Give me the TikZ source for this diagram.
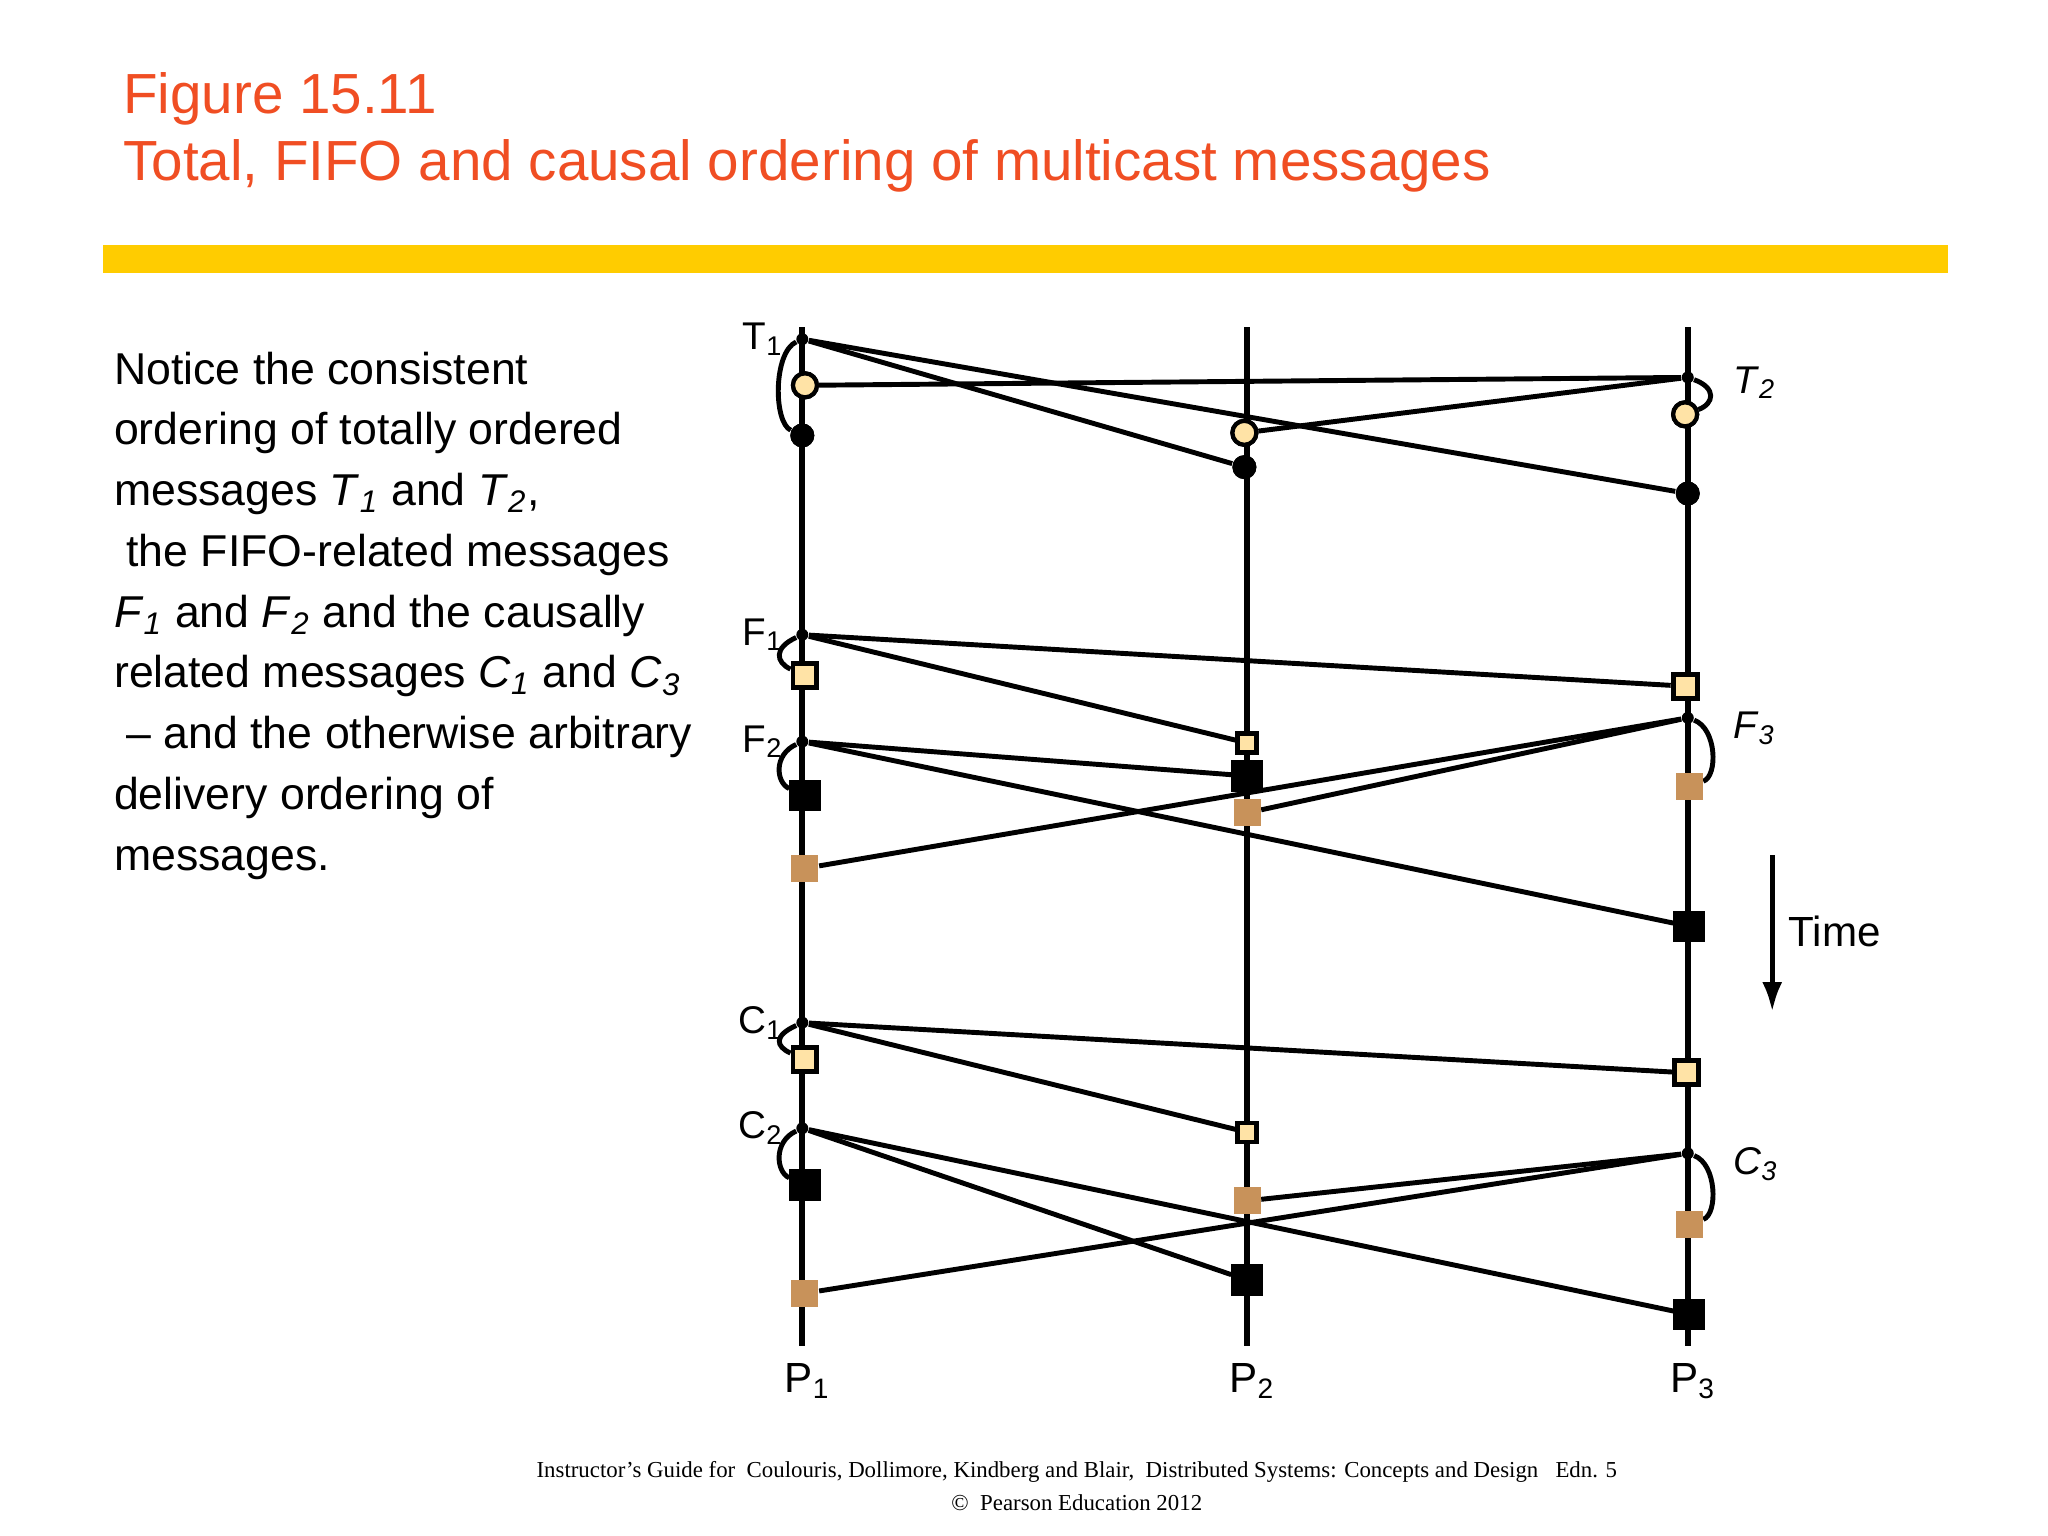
\documentclass[tikz,border=0pt]{standalone}
\usepackage{fontspec}
\setmainfont{Liberation Sans}
\newfontfamily\footfont{Liberation Serif}
\usetikzlibrary{calc, arrows.meta}
\definecolor{titlered}{HTML}{F04E23}
\definecolor{baryellow}{HTML}{FFCC00}
\definecolor{paleyel}{HTML}{FFE3A6}
\definecolor{tan}{HTML}{C8925A}
\newcommand{\sub}[2]{#1\textsubscript{#2}}
\newcommand{\isub}[2]{\textit{#1}\textsubscript{\textit{#2}}}

\begin{document}
\begin{tikzpicture}[x=0.132mm, y=-0.132mm,
            proc/.style={line width=1.7pt},
            msg/.style={line width=1.4pt},
            loopl/.style={line width=1.4pt},
            sendpt/.style={circle, fill=black, inner sep=0pt, minimum size=1.2mm},
            bigsq/.style={draw, line width=1pt, fill=black, inner sep=0pt, minimum size=2.8mm},
            smallsq/.style={draw, line width=1.2pt, fill=paleyel, inner sep=0pt, minimum size=1.9mm},
            palesq/.style={draw, line width=1.4pt, fill=paleyel, inner sep=0pt, minimum size=2.4mm},
            tansq/.style={fill=tan, inner sep=0pt, minimum size=2.7mm},
            ring/.style={draw, circle, line width=1.2pt, fill=paleyel, inner sep=0pt, minimum size=2.4mm},
            bigdot/.style={circle, fill=black, inner sep=0pt, minimum size=2.4mm},
            plabel/.style={font=\fontsize{12}{14}\selectfont},
            mlabel/.style={font=\fontsize{11}{13}\selectfont}]
        \useasboundingbox (0,0) rectangle (1552,1164);

        % heading
        \node[anchor=base west, text=titlered, font=\fontsize{16.1}{19}\selectfont] (fig) at (84,86) {Figure 15.11};
        \node[anchor=base west, text=titlered, font=\fontsize{16.1}{19}\selectfont] (caption) at (84,137) {Total, FIFO and causal ordering of multicast messages};
        \fill[baryellow] (78,186) rectangle (1476,207);

        \node[anchor=north west, align=left, inner sep=0pt, font=\fontsize{12.7}{17.3}\selectfont] (notes) at (86,266) {%
            Notice the consistent\\ ordering of totally ordered\\ messages \isub{T}{1} and \isub{T}{2},\\
            \ the FIFO-related messages\\ \isub{F}{1} and \isub{F}{2} and the causally\\
            related messages \isub{C}{1} and \isub{C}{3}\\ \ -- and the otherwise arbitrary\\
            delivery ordering of\\ messages.};

        % processes
        \foreach \n/\x in {1/608, 2/945, 3/1279} {
            \draw[proc] (\x,248) -- (\x,1020);
            \node[plabel, anchor=base] (P\n) at (\x+4,1055) {\sub{P}{\n}};
        }

        % send points
        \node[sendpt] (t1) at (608,257) {};
        \node[sendpt] (t2) at (1279,286) {};
        \node[sendpt] (f1) at (608,481) {};
        \node[sendpt] (f2) at (608,562) {};
        \node[sendpt] (f3) at (1279,544) {};
        \node[sendpt] (c1) at (608,775) {};
        \node[sendpt] (c2) at (608,855) {};
        \node[sendpt] (c3) at (1279,874) {};

        % deliveries
        \node[bigdot] (t1a) at (608,330) {};
        \node[bigdot] (t1b) at (943,354) {};
        \node[bigdot] (t1c) at (1279,374) {};
        \node[ring] (t2a) at (610,292) {};
        \node[ring] (t2b) at (943,328) {};
        \node[ring] (t2c) at (1277,314) {};

        \node[palesq] (f1a) at (610,512) {};
        \node[smallsq] (f1b) at (945,563) {};
        \node[palesq] (f1c) at (1277,520) {};
        \node[bigsq] (f2a) at (610,603) {};
        \node[bigsq] (f2b) at (945,588) {};
        \node[bigsq] (f2c) at (1280,702) {};
        \node[tansq] (f3a) at (610,658) {};
        \node[tansq] (f3b) at (945,616) {};
        \node[tansq] (f3c) at (1280,596) {};

        \node[palesq] (c1a) at (610,803) {};
        \node[smallsq] (c1b) at (945,858) {};
        \node[palesq] (c1c) at (1278,813) {};
        \node[bigsq] (c2a) at (610,898) {};
        \node[bigsq] (c2b) at (945,970) {};
        \node[bigsq] (c2c) at (1280,996) {};
        \node[tansq] (c3a) at (610,980) {};
        \node[tansq] (c3b) at (945,910) {};
        \node[tansq] (c3c) at (1280,928) {};

        % messages
        \foreach \m in {t1,f1,f2,c1,c2} {
            \draw[msg] (\m) -- (\m b);
            \draw[msg] (\m) -- (\m c);
            \draw[loopl] (\m) .. controls +(-22,10) and +(-22,-10) .. (\m a);
        }
        \foreach \m in {t2,f3,c3} {
            \draw[msg] (\m) -- (\m a);
            \draw[msg] (\m) -- (\m b);
            \draw[loopl] (\m) .. controls +(22,8) and +(22,-8) .. (\m c);
        }

        % redraw markers over lines
        \foreach \d in {t1a,t1b,t1c} \node[bigdot] at (\d) {};
        \foreach \d in {t2a,t2b,t2c} \node[ring] at (\d) {};
        \foreach \d in {f1a,f1c,c1a,c1c} \node[palesq] at (\d) {};
        \foreach \d in {f1b,c1b} \node[smallsq] at (\d) {};
        \foreach \d in {f2a,f2b,f2c,c2a,c2b,c2c} \node[bigsq] at (\d) {};
        \foreach \d in {f3a,f3b,f3c,c3a,c3b,c3c} \node[tansq] at (\d) {};

        % message labels
        \node[mlabel, anchor=east] (lt1) at (t1.west) {\sub{T}{1}};
        \node[mlabel, anchor=east] (lf1) at (f1.west) {\sub{F}{1}};
        \node[mlabel, anchor=east] (lf2) at (f2.west) {\sub{F}{2}};
        \node[mlabel, anchor=east] (lc1) at (c1.west) {\sub{C}{1}};
        \node[mlabel, anchor=east] (lc2) at (c2.west) {\sub{C}{2}};
        \node[mlabel, anchor=west] (lt2) at ($(t2.east)+(20,4)$) {\isub{T}{2}};
        \node[mlabel, anchor=west] (lf3) at ($(f3.east)+(20,8)$) {\isub{F}{3}};
        \node[mlabel, anchor=west] (lc3) at ($(c3.east)+(20,8)$) {\isub{C}{3}};

        % time
        \coordinate (tstart) at (1343,648);
        \coordinate (tend) at (1343,767);
        \draw[line width=1.5pt, -{Latex[length=3mm,width=2mm]}] (tstart) -- (tend);
        \node[plabel, anchor=west] (time) at (1346,706) {Time};

        % footer
        \node[font=\footfont\fontsize{6.5}{9.5}\selectfont, align=center] (foot) at (816,1126) {Instructor’s Guide for\ \ Coulouris, Dollimore, Kindberg and Blair,\ \ Distributed Systems: Concepts and Design\ \ \ Edn. 5\\ \copyright\ \ Pearson Education 2012};
    \end{tikzpicture}
\end{document}
